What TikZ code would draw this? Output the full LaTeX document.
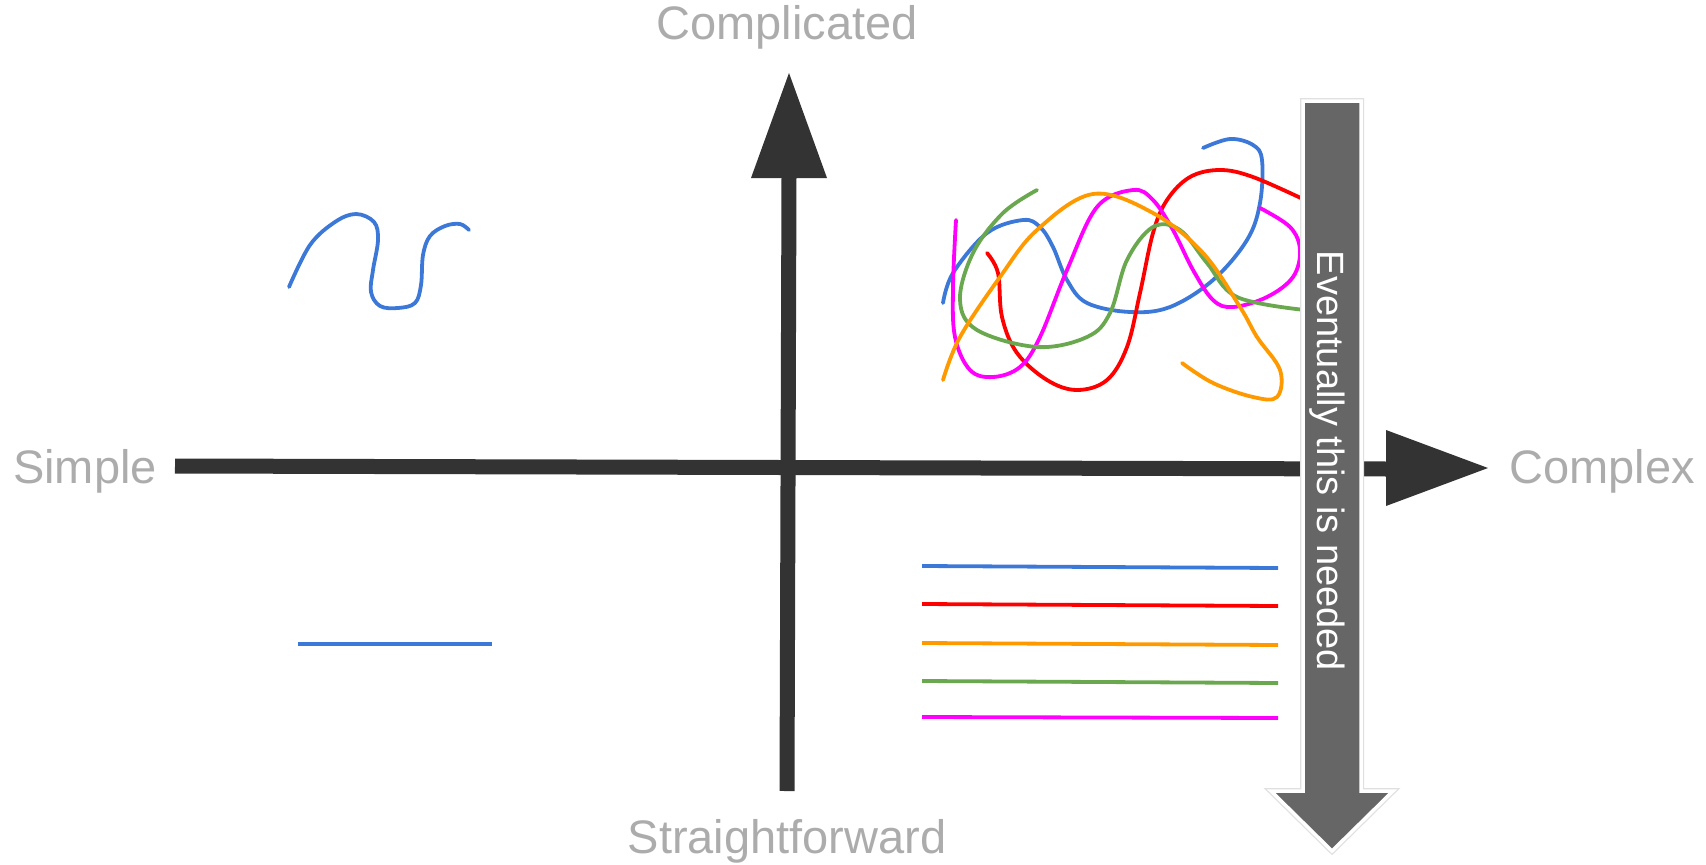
\documentclass[tikz,border=0pt]{standalone}
\usepackage{fontspec}
\setmainfont{Liberation Sans}
\definecolor{gblue}{HTML}{3C78D8}
\definecolor{gred}{HTML}{FF0000}
\definecolor{gorange}{HTML}{FF9900}
\definecolor{ggreen}{HTML}{6AA84F}
\definecolor{gmag}{HTML}{FF00FF}
\definecolor{axisdark}{HTML}{333333}
\definecolor{labelgray}{HTML}{ACACAC}
\definecolor{arrowgray}{HTML}{666666}
\tikzset{
  scribble/.style={line width=3.8pt, line cap=round, line join=round},
  axisline/.style={draw=axisdark, line width=15pt},
  axishead/.style={fill=axisdark},
  axislabel/.style={text=labelgray, font=\fontsize{47}{56}\selectfont, anchor=base, inner sep=0pt},
}
\begin{document}
\begin{tikzpicture}[x=1pt,y=-1pt]
\useasboundingbox (0,0) rectangle (1706,865);
% scribbles top-left
\draw[scribble, gblue] plot[smooth, tension=0.6] coordinates {(289,287) (310,245) (335,222) (356,214) (374,222) (378,240) (373,270) (371,292) (380,306) (398,308) (415,303) (421,285) (423,255) (430,236) (445,226) (460,224) (469,230)};
% straight line bottom-left
\coordinate (sl1) at (298,644); \coordinate (sl2) at (492,644);
\draw[scribble, gblue, line cap=butt] (sl1) -- (sl2);
% tangle
\draw[scribble, gblue] plot[smooth, tension=0.6] coordinates {(943,303) (953,273) (987,233) (1023,220) (1040,227) (1053,247) (1067,280) (1087,303) (1130,312) (1170,307) (1213,280) (1247,240) (1260,203) (1262,160) (1253,145) (1230,139) (1203,148)};
\draw[scribble, gred] plot[smooth, tension=0.6] coordinates {(987,253) (998,273) (1002,317) (1017,353) (1047,380) (1077,390) (1107,380) (1127,347) (1140,293) (1153,233) (1167,200) (1190,177) (1220,170) (1253,177) (1305,200)};
\draw[scribble, gmag] plot[smooth, tension=0.6] coordinates {(956,220) (953,287) (955,337) (970,370) (993,377) (1020,367) (1040,337) (1067,270) (1097,207) (1133,190) (1153,200) (1173,230) (1193,270) (1213,300) (1233,307) (1267,297) (1293,277) (1300,250) (1290,227) (1260,208)};
\draw[scribble, ggreen] plot[smooth, tension=0.6] coordinates {(1037,190) (1003,213) (973,253) (960,300) (977,330) (1037,347) (1087,337) (1110,313) (1127,260) (1153,227) (1180,230) (1207,263) (1237,297) (1305,310)};
\draw[scribble, gorange] plot[smooth, tension=0.6] coordinates {(943,380) (960,337) (1000,277) (1037,230) (1093,194) (1153,213) (1203,253) (1240,307) (1257,337) (1280,370) (1277,397) (1253,397) (1213,383) (1182,363)};
% straight lines bottom-right
\foreach \c/\ya/\yb in {gblue/566/568, gred/604/606, gorange/643/645, ggreen/681/683, gmag/717/718}{
  \draw[scribble, \c, line cap=butt] (922,\ya) -- (1278,\yb);
}
% axes
\coordinate (hL) at (175,466);
\coordinate (hR) at (1388,469);
\coordinate (hT) at (1488,468);
\coordinate (vB) at (787,791);
\coordinate (vT) at (789,176);
\coordinate (vTip) at (789,73);
\draw[axisline] (hL) -- (hR);
\fill[axishead] (1386,430) -- (hT) -- (1386,506) -- cycle;
\draw[axisline] (vB) -- (vT);
\fill[axishead] (751,178) -- (vTip) -- (827,178) -- cycle;
% gray "eventually" arrow
\coordinate (gA) at (1303,101);
\coordinate (gB) at (1361,101);
\coordinate (gC) at (1361,791);
\coordinate (gD) at (1393,791);
\coordinate (gTip) at (1332,851);
\coordinate (gE) at (1271,791);
\coordinate (gF) at (1303,791);
\draw[line width=6pt, draw=black!12, line join=miter] (gA) -- (gB) -- (gC) -- (gD) -- (gTip) -- (gE) -- (gF) -- cycle;
\draw[line width=3.5pt, draw=white, fill=arrowgray, line join=miter] (gA) -- (gB) -- (gC) -- (gD) -- (gTip) -- (gE) -- (gF) -- cycle;
\node[rotate=-90, anchor=base, inner sep=0pt, text=white, font=\fontsize{38}{44}\selectfont] (ev) at (1317,461) {Eventually this is needed};
% labels
\node[axislabel] (simple) at (85,483) {Simple};
\node[axislabel] (complex) at (1602,483) {Complex};
\node[axislabel] (complicated) at (787,39) {Complicated};
\node[axislabel] (straight) at (787,853) {Straightforward};
\end{tikzpicture}
\end{document}
